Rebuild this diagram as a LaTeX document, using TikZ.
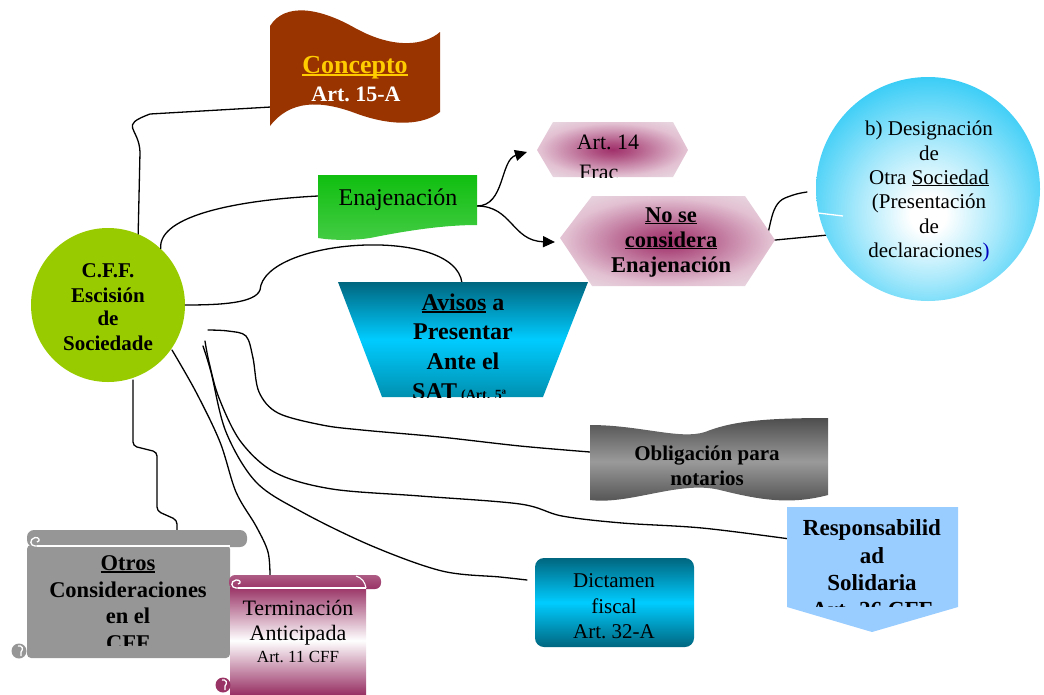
\documentclass[tikz,border=0pt]{standalone}
\usepackage{fontspec}
\setmainfont{Liberation Serif}
\usetikzlibrary{arrows.meta}

\definecolor{conceptbrown}{HTML}{993300}
\definecolor{conceptgold}{HTML}{FFCC00}
\definecolor{cffgreen}{HTML}{99CC00}
\definecolor{enatop}{HTML}{10BF10}
\definecolor{enabot}{HTML}{44CC44}
\definecolor{glowc}{HTML}{A0306A}
\definecolor{bubblec}{HTML}{1FC6F5}
\definecolor{tealdark}{HTML}{00667F}
\definecolor{cyanbright}{HTML}{00CCFF}
\definecolor{tealbot}{HTML}{0090B0}
\definecolor{graydark}{HTML}{4E4E4E}
\definecolor{graymid}{HTML}{9A9A9A}
\definecolor{respblue}{HTML}{99CCFF}
\definecolor{otrosgray}{HTML}{969696}
\definecolor{termc}{HTML}{993366}

\pgfdeclareradialshading{glowshade}{\pgfpoint{0bp}{0bp}}{color(0bp)=(glowc); color(6bp)=(glowc!85!white); color(24bp)=(glowc!30!white); color(40bp)=(white!93!black); color(50bp)=(white!97!black); color(75bp)=(white)}
\pgfdeclareradialshading{bubbleshade}{\pgfpoint{0bp}{-6bp}}{color(0bp)=(white); color(4bp)=(white); color(16bp)=(bubblec!40!white); color(30bp)=(bubblec!92!white); color(50bp)=(bubblec); color(80bp)=(bubblec)}

\newcommand\fsz[2]{\fontsize{#1}{#2}\selectfont}
% underline with a heavier rule in the current text colour
\newcommand\thickul[1]{\setbox0\hbox{#1}\leavevmode\rlap{\raisebox{-3.2pt}{\rule{\wd0}{1.8pt}}}\box0\relax}

\begin{document}
\begin{tikzpicture}[x=1pt,y=-1pt,
  conn/.style={draw=black,line width=1.3pt,line cap=round,line join=round},
  arr/.style={conn,-{Triangle[length=12pt,width=11pt]}},
  txt/.style={anchor=base,inner sep=0pt},
  rg/.style={txt,font=\fsz{22}{26}},
  bd/.style={txt,font=\fsz{22.5}{26}\bfseries},
  smooth line/.style={conn,smooth,tension=0.55}
]
\useasboundingbox (0,0) rectangle (1044,694);

% ---------- attachment points ----------
\coordinate (concL) at (271,107);
\coordinate (enaL) at (318,196);
\coordinate (enaR) at (477,206);
\coordinate (art14W) at (527,152);
\coordinate (nsW) at (555,242);
\coordinate (nsE) at (762,247);
\coordinate (nsE2) at (765,241);
\coordinate (nsTop) at (807,192);
\coordinate (desigW) at (828,235);
\coordinate (avT) at (462,283);
\coordinate (oblS) at (208,330);
\coordinate (oblE) at (590,452);
\coordinate (resS) at (205,341);
\coordinate (resE) at (790,539);
\coordinate (dicS) at (203,346);
\coordinate (dicE) at (527,580);
\coordinate (terS) at (172,350);
\coordinate (terE) at (270,577);
\coordinate (otrS) at (133,380);
\coordinate (otrE) at (177,531);

% ---------- central circle ----------
\node[circle,fill=cffgreen,minimum size=154pt,inner sep=0pt] (cff) at (108,305) {};

% ---------- connectors ----------
\draw[conn] (cff.67) -- (140,152) .. controls (139,127) and (118,126) .. (150,114) -- (concL);
\draw[conn] (cff.47) .. controls (158,215) and (240,200) .. (enaL);
\draw[conn] (cff.east) .. controls (222,305) and (255,303) .. (260,290)
            .. controls (264,238) and (455,225) .. (avT);
\draw[arr] (enaR) .. controls (505,206) and (500,160) .. (art14W);
\draw[arr] (enaR) .. controls (512,206) and (512,241) .. (nsW);
\draw[conn] (nsE) .. controls (772,235) and (768,205) .. (785,198) .. controls (795,194) and (800,193) .. (nsTop);
\draw[conn] (nsE2) -- (desigW);
\draw[smooth line] plot coordinates {(oblS) (228,331) (246,336) (253,358) (259,392) (278,413) (322,425) (362,430) (440,437) (520,446) (oblE)};
\draw[smooth line] plot coordinates {(resS) (209,362) (219,398) (241,442) (276,473) (332,489) (420,496) (520,504) (562,516) (622,523) (702,528) (resE)};
\draw[smooth line] plot coordinates {(dicS) (211,372) (226,432) (256,482) (302,512) (372,546) (442,571) (500,577) (dicE)};
\draw[smooth line] plot coordinates {(terS) (196,392) (220,442) (236,492) (256,526) (268,552) (terE)};
\draw[conn,rounded corners=4pt] (otrS) -- (133,446) -- (157,452) -- (157,511) -- (177,520) -- (otrE);

% ---------- Concepto flag ----------
\fill[conceptbrown] (270,26) .. controls (285,2) and (320,8) .. (355,28)
   .. controls (395,50) and (425,45) .. (440,32) -- (440,112)
   .. controls (425,124) and (395,128) .. (355,113)
   .. controls (320,100) and (290,100) .. (270,126) -- cycle;
\node[txt,font=\fsz{26}{30}\bfseries,text=conceptgold] (concepto-t) at (355,73) {\thickul{Concepto}};
\node[txt,font=\fsz{22}{26}\bfseries,text=white] (concepto-a) at (356,101) {Art.~15-A};

% ---------- Enajenacion ----------
\shade[top color=enatop,bottom color=enabot] (318,175) -- (477,175) -- (477,225)
   .. controls (440,225) and (400,232) .. (370,238) .. controls (350,241) and (330,240) .. (318,238) -- cycle;
\node[txt,font=\fsz{24}{28}] (ena-t) at (398,205) {Enajenación};

% ---------- Art. 14 ----------
\begin{scope}
  \path[clip] (537,150) -- (553,122) -- (673,122) -- (688,150) -- (673,177) -- (553,177) -- cycle;
  \shade[shading=glowshade] (537,150) -- (553,122) -- (673,122) -- (688,150) -- (673,177) -- (553,177) -- cycle;
  \node[rg] (art14-a) at (608,149) {Art.~14};
  \node[rg,anchor=base west] (art14-b) at (579,179) {Frac};
\end{scope}

% ---------- No se considera ----------
\shade[shading=glowshade] (560,238) -- (592,196) -- (745,196) -- (775,240) -- (745,286) -- (592,286) -- cycle;
\node[bd] (ns-1) at (671,222) {\underline{No se}};
\node[bd] (ns-2) at (671,247) {\underline{considera}};
\node[bd] (ns-3) at (671,272) {Enajenación};

% ---------- Designacion circle ----------
\node[circle,shade,shading=bubbleshade,minimum size=224pt,inner sep=0pt] (desig) at (928,189) {};
\draw[white,line width=1.3pt] (818,213) -- (843,216);
\node[txt,font=\fsz{21}{25}] (d-1) at (929,135) {b) Designación};
\node[txt,font=\fsz{21}{25}] (d-2) at (929,160) {de};
\node[txt,font=\fsz{21}{25}] (d-3) at (929,184) {Otra \underline{Sociedad}};
\node[txt,font=\fsz{21}{25}] (d-4) at (929,208) {(Presentación};
\node[txt,font=\fsz{21}{25}] (d-5) at (929,233) {de};
\node[txt,font=\fsz{21}{25}] (d-6) at (929,257) {declaraciones\textcolor{blue!75!black}{)}};

% ---------- C.F.F. text ----------
\node[txt,font=\fsz{21}{25}\bfseries] (cff-1) at (108,277) {C.F.F.};
\node[txt,font=\fsz{21}{25}\bfseries] (cff-2) at (108,302) {Escisión};
\node[txt,font=\fsz{21}{25}\bfseries] (cff-3) at (108,325) {de};
\node[txt,font=\fsz{21}{25}\bfseries] (cff-4) at (108,350) {Sociedade};

% ---------- Avisos ----------
\begin{scope}
  \path[clip] (338,282) -- (588,282) -- (543,397) -- (382,397) -- cycle;
  \shade[top color=tealdark,bottom color=tealbot,middle color=cyanbright] (338,282) -- (588,282) -- (543,397) -- (382,397) -- cycle;
  \node[txt,font=\fsz{24}{28}\bfseries] (av-1) at (463,310) {\thickul{Avisos} a};
  \node[txt,font=\fsz{24}{28}\bfseries] (av-2) at (463,339) {Presentar};
  \node[txt,font=\fsz{24}{28}\bfseries] (av-3) at (463,369) {Ante el};
  \node[txt,anchor=base west,font=\fsz{24}{28}\bfseries] (av-4) at (412,399) {SAT\,{\fsz{14}{16}(Art. 5ª}};
\end{scope}

% ---------- Obligacion para notarios ----------
\shade[top color=graydark,bottom color=graydark,middle color=graymid]
   (590,425) .. controls (640,425) and (680,440) .. (705,432) .. controls (730,422) and (760,418) .. (828,418)
   -- (828,495) .. controls (790,505) and (760,500) .. (720,490) .. controls (680,480) and (630,505) .. (590,500) -- cycle;
\node[txt,font=\fsz{21}{25}\bfseries] (ob-1) at (707,460) {Obligación para};
\node[txt,font=\fsz{21}{25}\bfseries] (ob-2) at (707,485) {notarios};

% ---------- Responsabilidad solidaria ----------
\fill[respblue] (787,507) -- (958,507) -- (958,607) -- (872,632) -- (787,607) -- cycle;
\node[txt,font=\fsz{23}{27}\bfseries] (rs-1) at (872,535) {Responsabilid};
\node[txt,font=\fsz{23}{27}\bfseries] (rs-2) at (872,563) {ad};
\node[txt,font=\fsz{23}{27}\bfseries] (rs-3) at (872,590) {Solidaria};
\begin{scope}
  \path[clip] (787,599) rectangle (958,606);
  \node[txt,font=\fsz{23}{27}\bfseries] (rs-4) at (872,617) {Art. 26 CFF};
\end{scope}

% ---------- Dictamen fiscal ----------
\shade[rounded corners=9pt,top color=tealdark,bottom color=tealdark,middle color=cyanbright] (535,558) rectangle (694,647);
\node[txt,font=\fsz{21}{25}] (dc-1) at (614,587) {Dictamen};
\node[txt,font=\fsz{21}{25}] (dc-2) at (614,613) {fiscal};
\node[txt,font=\fsz{21}{25}] (dc-3) at (614,638) {Art.~32-A};

% ---------- Otros consideraciones scroll ----------
\fill[otrosgray,rounded corners=4pt] (27,545) rectangle (230,658);
\fill[otrosgray,rounded corners=7pt] (27,530) rectangle (247,547);
\draw[white,line width=1.3pt] (37,546) -- (230,546);
\draw[white,line width=1.3pt] (40,546) -- (35,546) .. controls (30,546) and (29,539) .. (35,537.5) .. controls (39,537) and (41,541) .. (37,542);
\fill[otrosgray] (19,651) circle (7.5);
\draw[white,line width=1.3pt] (18,646) .. controls (22,645) and (24,649) .. (21,652) -- (21,656);
\node[bd] (ot-1) at (128,570) {\thickul{Otros}};
\node[bd] (ot-2) at (128,597) {Consideraciones};
\node[bd] (ot-3) at (128,623) {en el};
\begin{scope}
  \path[clip] (27,600) rectangle (230,645);
  \node[bd] (ot-4) at (128,650) {CFF};
\end{scope}

% ---------- Terminacion anticipada scroll ----------
\shade[top color=termc,bottom color=termc,middle color=white] (230,587) rectangle (366,694);
\shade[top color=termc!80!white,bottom color=termc,rounded corners=6pt] (229,575) rectangle (381,589);
\draw[white,line width=1.3pt] (238,588) -- (366,588);
\draw[white,line width=1.3pt] (241,588) -- (236,588) .. controls (231,588) and (230,581) .. (236,580) .. controls (240,579.5) and (242,583) .. (238,584);
\draw[white,line width=1.1pt] (356,576) .. controls (362,578) and (365,582) .. (366,588);
\fill[termc] (223,685) circle (7.5);
\draw[white,line width=1.3pt] (222,680) .. controls (226,679) and (228,683) .. (225,686) -- (225,690);
\node[txt,font=\fsz{22}{26}] (tm-1) at (298,615) {Terminación};
\node[txt,font=\fsz{22}{26}] (tm-2) at (298,640) {Anticipada};
\node[txt,font=\fsz{17}{20}] (tm-3) at (298,662) {Art.~11 CFF};
\end{tikzpicture}
\end{document}
